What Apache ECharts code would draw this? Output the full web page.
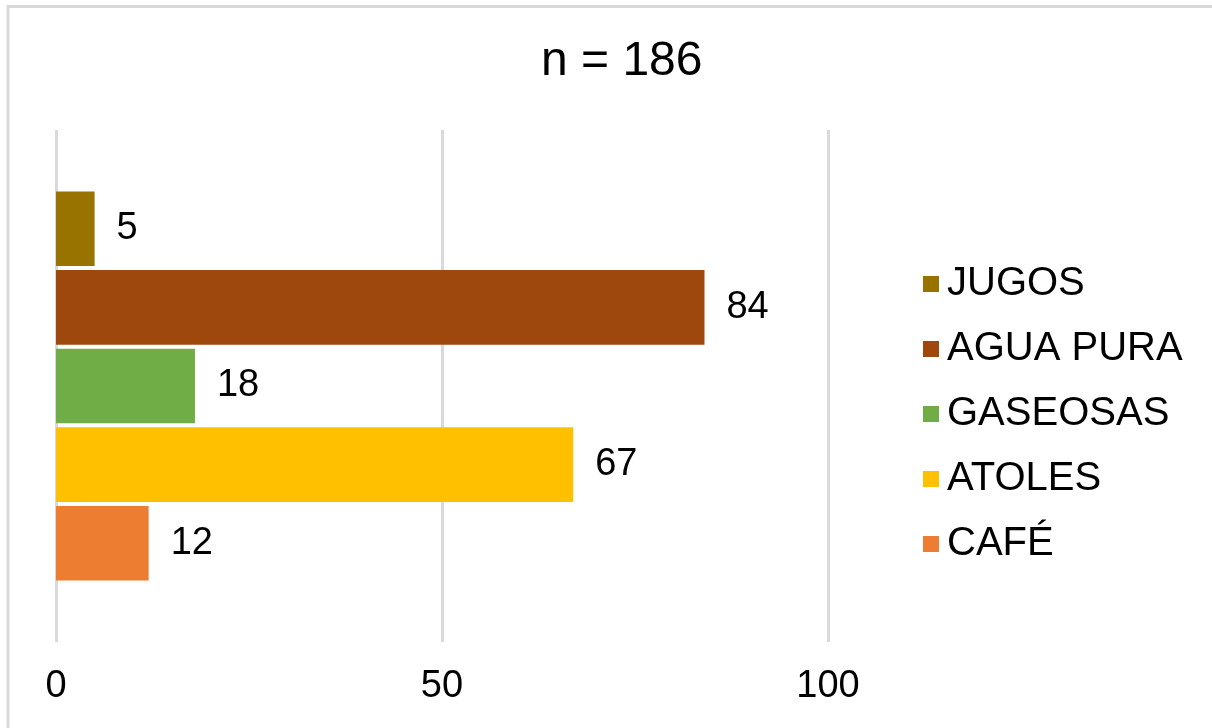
<!DOCTYPE html>
<html>
<head>
<meta charset="utf-8">
<script src="https://cdn.jsdelivr.net/npm/echarts@6/dist/echarts.min.js"></script>
<style>
  html, body { margin: 0; padding: 0; background: #fff; }
  #chart { width: 1212px; height: 728px; }
</style>
</head>
<body>
<div id="chart"></div>
<script>
// Consumo de bebidas (n = 186)
const titleText = 'n = 186';
const categories = [''];
const seriesNames = ['JUGOS', 'AGUA PURA', 'GASEOSAS', 'ATOLES', 'CAFÉ'];
const seriesValues = [5, 84, 18, 67, 12];
const seriesColors = ['#997300', '#9E480E', '#70AD47', '#FFC000', '#ED7D31'];
const xTicks = { min: 0, max: 100, interval: 50 };

const FONT = '"Liberation Sans", Arial, sans-serif';

const chart = echarts.init(document.getElementById('chart'), null, { renderer: 'canvas' });

const series = seriesNames.map((name, i) => ({
  name: name,
  type: 'bar',
  data: [seriesValues[i]],
  itemStyle: { color: seriesColors[i] },
  barGap: '5.3%',
  barCategoryGap: '24%',
  label: {
    show: true,
    position: 'right',
    distance: 22,
    color: '#000',
    fontFamily: FONT,
    fontSize: 38
  }
}));

chart.setOption({
  animation: false,
  backgroundColor: '#fff',
  title: {
    text: titleText,
    left: 536,
    top: 33,
    textStyle: { fontFamily: FONT, fontSize: 48, fontWeight: 'normal', color: '#000' }
  },
  legend: {
    orient: 'vertical',
    left: 918,
    top: 259,
    itemWidth: 16,
    itemHeight: 16,
    itemGap: 25,
    icon: 'rect',
    textStyle: { fontFamily: FONT, fontSize: 40, color: '#000', lineHeight: 40, padding: [0, 0, 0, 3] },
    data: seriesNames
  },
  grid: { left: 56, right: 384, top: 130, bottom: 86, containLabel: false },
  xAxis: {
    type: 'value',
    min: xTicks.min,
    max: xTicks.max,
    interval: xTicks.interval,
    axisLine: { show: false },
    axisTick: { show: false },
    splitLine: { show: true, lineStyle: { color: '#d9d9d9', width: 3 } },
    axisLabel: { margin: 26, color: '#000', fontFamily: FONT, fontSize: 38 }
  },
  yAxis: {
    type: 'category',
    data: categories,
    inverse: true,
    axisLine: { show: false },
    axisTick: { show: false },
    axisLabel: { show: false }
  },
  graphic: [{
    type: 'rect',
    shape: { x: 8, y: 6.5, width: 1300, height: 800 },
    style: { fill: 'none', stroke: '#d9d9d9', lineWidth: 3 },
    silent: true
  }],
  series: series
});
</script>
</body>
</html>
